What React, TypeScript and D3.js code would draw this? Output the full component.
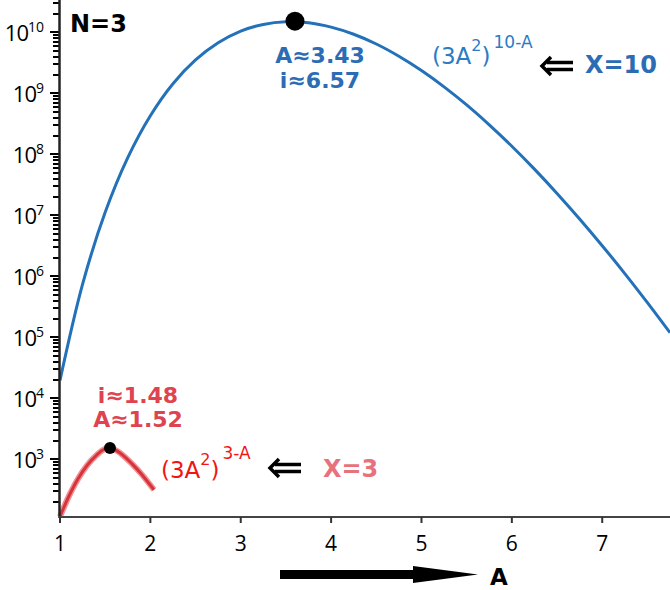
import React from "react";
import * as d3 from "d3";

// values
const blueA = [1, 1.25, 1.5, 1.75, 2, 2.25, 2.5, 2.75, 3, 3.25, 3.5, 3.75, 4, 4.25, 4.5, 4.75, 5, 5.25, 5.5, 5.75, 6, 6.25, 6.5, 6.75, 7, 7.25, 7.5, 7.75];
const blueVal = [1.97e4, 7.43e5, 1.12e7, 8.83e7, 4.3e8, 1.44e9, 3.53e9, 6.75e9, 1.05e10, 1.35e10, 1.49e10, 1.44e10, 1.22e10, 9.33e9, 6.46e9, 4.07e9, 2.37e9, 1.28e9, 6.46e8, 3.05e8, 1.36e8, 5.73e7, 2.29e7, 8.73e6, 3.18e6, 1.11e6, 3.7e5, 1.19e5];
const redA = [1, 1.1, 1.2, 1.3, 1.4, 1.5, 1.6, 1.7, 1.8, 1.9, 2.04];
const redVal = [115, 251, 479, 794, 1150, 1480, 1445, 1150, 832, 575, 316];
const peakA = [3.6, 1.553];
const peakVal = [1.53e10, 1530];
const xTicks = [1, 2, 3, 4, 5, 6, 7];
const yExponents = [3, 4, 5, 6, 7, 8, 9, 10];
const blueLabels = ["A≈3.43", "i≈6.57"];
const redLabels = ["i≈1.48", "A≈1.52"];

const W = 670;
const H = 590;
const bold = "'DejaVu Sans', Verdana, sans-serif";
const tickFont = "'Open Sans', sans-serif";

const x = d3.scaleLinear().domain([1, 7.75]).range([60, 670]);
const y = d3.scaleLog().domain([113, 3.4e10]).range([517, 0]);

const minorTicks: number[] = [];
for (let e = 2; e <= 10; e++) {
  for (let m = 2; m <= 9; m++) {
    const v = m * Math.pow(10, e);
    if (v >= 113 && v <= 3.4e10) minorTicks.push(v);
  }
}

const bluePath = d3
  .line<number>()
  .x((d) => x(d))
  .y((d, i) => y(blueVal[i]))
  .curve(d3.curveCatmullRom.alpha(0.5))(blueA);
const redPath = d3
  .line<number>()
  .x((d) => x(d))
  .y((d, i) => y(redVal[i]))
  .curve(d3.curveCatmullRom.alpha(0.5))(redA);

const DoubleArrow = ({ cx, cy }: { cx: number; cy: number }) => (
  <g stroke="#000" fill="none" strokeLinecap="butt">
    <line x1={cx + 7} y1={cy - 3.5} x2={cx + 33} y2={cy - 3.5} strokeWidth={3.5} />
    <line x1={cx + 7} y1={cy + 3.5} x2={cx + 33} y2={cy + 3.5} strokeWidth={3.5} />
    <polyline points={`${cx + 11},${cy - 9} ${cx + 2},${cy} ${cx + 11},${cy + 9}`} strokeWidth={3.5} />
  </g>
);

export default function App() {
  return (
    <div style={{ position: "absolute", left: 0, top: 0 }}>
      <svg width={W} height={H} style={{ display: "block", background: "#fff" }}>
        {/* curves */}
        <path d={bluePath || ""} fill="none" stroke="#2271b9" strokeWidth={3} />
        <path d={redPath || ""} fill="none" stroke="#ef9094" strokeWidth={6} />
        <path d={redPath || ""} fill="none" stroke="#d7333a" strokeWidth={3} />

        {/* peak markers */}
        {peakA.map((a, i) => (
          <circle key={i} cx={x(a)} cy={y(peakVal[i])} r={i === 0 ? 9.5 : 6} fill="#000" />
        ))}

        {/* y axis */}
        {minorTicks.map((v) => (
          <rect key={v} x={53} y={Math.round(y(v)) - 1} width={7} height={2} fill="#000" />
        ))}
        {yExponents.map((e) => (
          <g key={e}>
            <rect x={50} y={Math.round(y(Math.pow(10, e))) - 1} width={10} height={2} fill="#000" />
            <text x={44} y={y(Math.pow(10, e)) + 9} textAnchor="end" fontFamily={tickFont} fontSize={22} letterSpacing={-1} fill="#000">
              10
              <tspan fontSize={14} letterSpacing={0} dy={-9}>
                {e}
              </tspan>
            </text>
          </g>
        ))}
        <line x1={59.5} y1={0} x2={59.5} y2={518} stroke="#222" strokeWidth={2.5} />

        {/* x axis */}
        <line x1={59} y1={517} x2={670} y2={517} stroke="#444" strokeWidth={2} />
        {xTicks.map((t) => (
          <g key={t}>
            <line x1={x(t)} x2={x(t)} y1={517} y2={523} stroke="#333" strokeWidth={2} />
            <text x={x(t)} y={551} textAnchor="middle" fontFamily={tickFont} fontSize={21} fill="#000">
              {t}
            </text>
          </g>
        ))}

        {/* axis arrow + label */}
        <rect x={280} y={570} width={135} height={9} fill="#000" />
        <polygon points="413,566 478,574.5 413,583" fill="#000" />
        <text x={490} y={585} fontFamily={bold} fontWeight="bold" fontSize={23} fill="#000">
          A
        </text>

        <text x={70} y={32} fontFamily={bold} fontWeight="bold" fontSize={24} fill="#000">
          N=3
        </text>

        {/* blue annotations */}
        {blueLabels.map((s, i) => (
          <text key={s} x={320} y={63 + i * 25} textAnchor="middle" fontFamily={bold} fontWeight="bold" fontSize={22} fill="#2b6cb5">
            {s}
          </text>
        ))}
        <text x={432} y={64} fontFamily={bold} fontSize={23} fill="#2a7cc4">
          (3A
          <tspan fontSize={16} dy={-13}>2</tspan>
          <tspan dy={13}>)</tspan>
          <tspan fontSize={17} dx={3} dy={-16}>10-A</tspan>
        </text>
        <DoubleArrow cx={540} cy={66} />
        <text x={585} y={73} fontFamily={bold} fontWeight="bold" fontSize={24} fill="#2b6cb5">
          X=10
        </text>

        {/* red annotations */}
        {redLabels.map((s, i) => (
          <text key={s} x={138} y={403 + i * 24} textAnchor="middle" fontFamily={bold} fontWeight="bold" fontSize={22} fill="#df4350">
            {s}
          </text>
        ))}
        <text x={161} y={478} fontFamily={bold} fontSize={23} fill="#f01515">
          (3A
          <tspan fontSize={16} dy={-13}>2</tspan>
          <tspan dy={13}>)</tspan>
          <tspan fontSize={17} dx={3} dy={-19}>3-A</tspan>
        </text>
        <DoubleArrow cx={268} cy={468} />
        <text x={323} y={477} fontFamily={bold} fontWeight="bold" fontSize={24} fill="#e8727c">
          X=3
        </text>
      </svg>
    </div>
  );
}
